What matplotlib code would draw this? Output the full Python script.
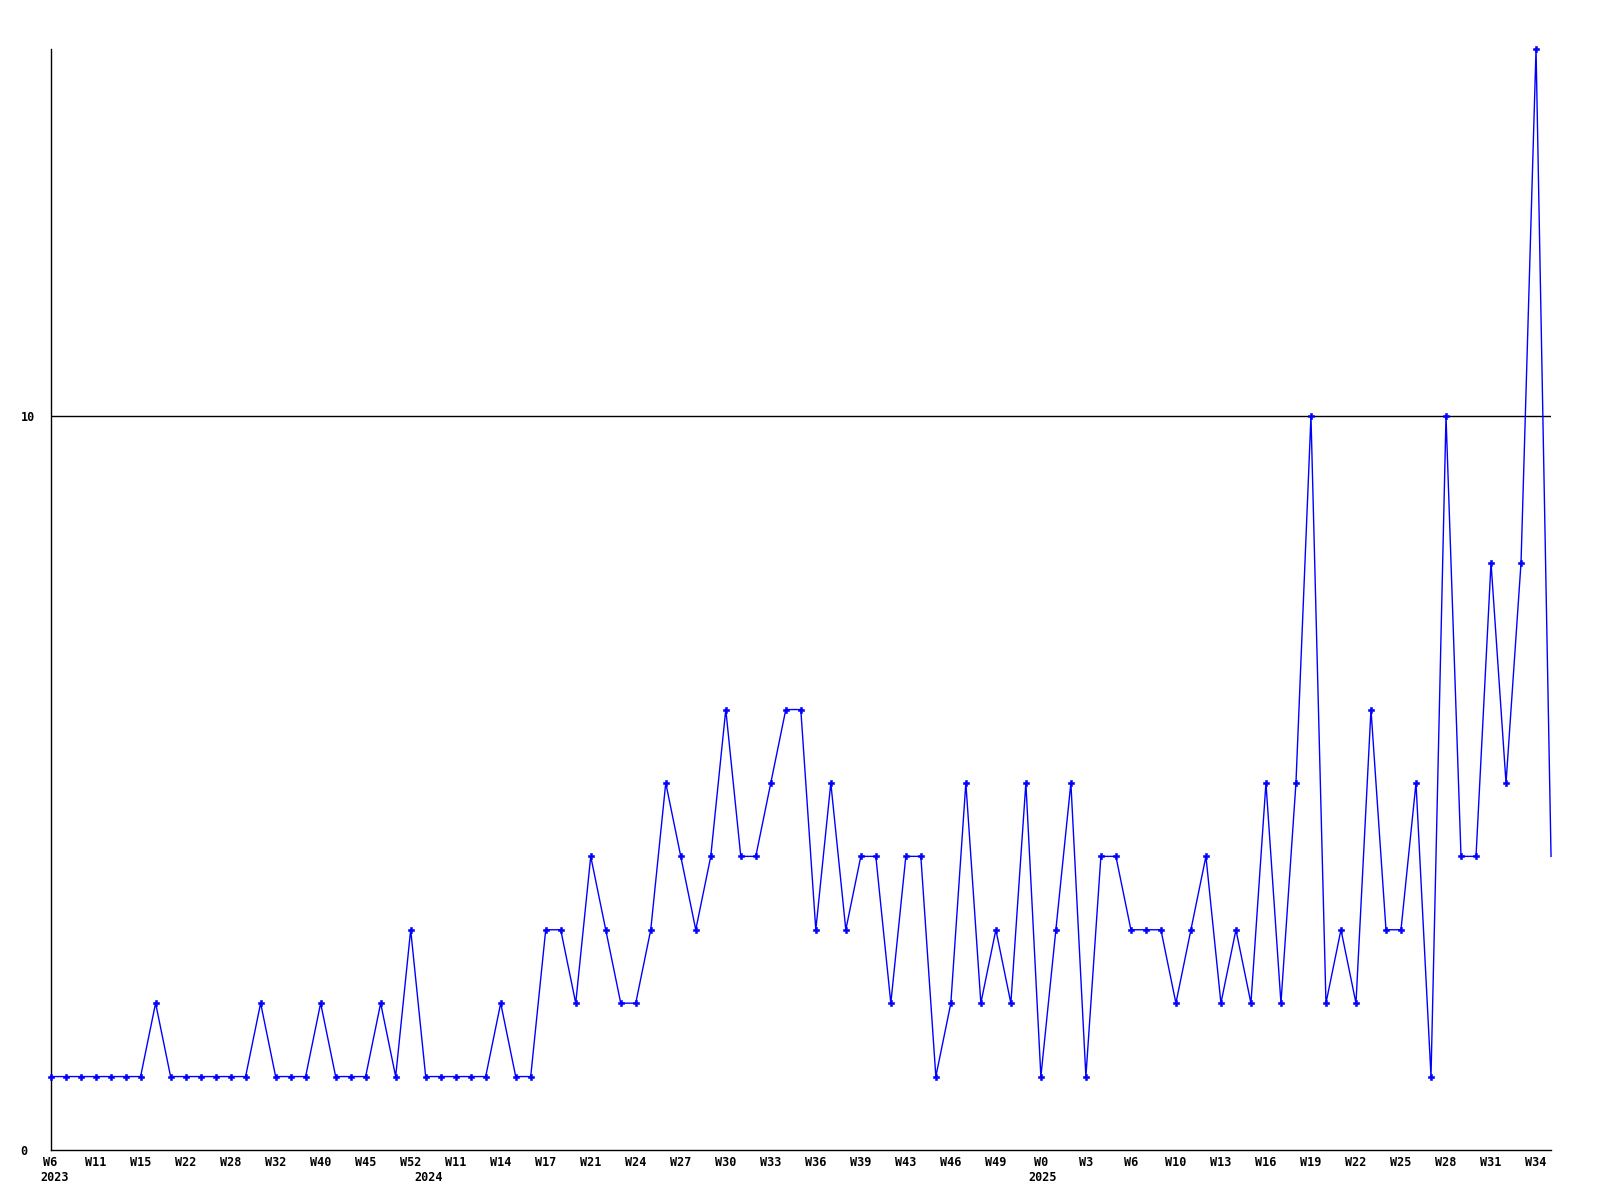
import matplotlib
matplotlib.use("Agg")
import matplotlib.pyplot as plt

# weekly counts, one value per week
counts = [1, 1, 1, 1, 1, 1, 1, 2, 1, 1, 1, 1, 1, 1, 2, 1, 1, 1, 2, 1,
          1, 1, 2, 1, 3, 1, 1, 1, 1, 1, 2, 1, 1, 3, 3, 2, 4, 3, 2, 2,
          3, 5, 4, 3, 4, 6, 4, 4, 5, 6, 6, 3, 5, 3, 4, 4, 2, 4, 4, 1,
          2, 5, 2, 3, 2, 5, 1, 3, 5, 1, 4, 4, 3, 3, 3, 2, 3, 4, 2, 3,
          2, 5, 2, 5, 10, 2, 3, 2, 6, 3, 3, 5, 1, 10, 4, 4, 8, 5, 8, 15,
          4]

week_labels = ["W6", "W11", "W15", "W22", "W28", "W32", "W40", "W45", "W52",
               "W11", "W14", "W17", "W21", "W24", "W27", "W30", "W33", "W36",
               "W39", "W43", "W46", "W49", "W0", "W3", "W6", "W10", "W13",
               "W16", "W19", "W22", "W25", "W28", "W31", "W34"]
label_step = 3

years = ["2023", "2024", "2025"]
year_pos = [0.3, 25.2, 66.1]

y_ticks = [0, 10]

font = {"family": "DejaVu Sans Mono", "weight": "bold", "size": 8.5}

fig = plt.figure(figsize=(16, 12), dpi=100)
ax = fig.add_axes([0.0316, 0.0417, 0.9378, 0.9175])

x = list(range(len(counts)))
ax.plot(x, counts, color="#0000ff", lw=1, marker="P", markersize=5,
        markeredgewidth=0.4, markevery=list(range(len(counts) - 1)),
        clip_on=False, zorder=3)
ax.axhline(10, color="black", lw=1, zorder=2)

ax.set_xlim(0, len(counts) - 1)
ax.set_ylim(0, 15)

for side in ["top", "right"]:
    ax.spines[side].set_visible(False)
for side in ["left", "bottom"]:
    ax.spines[side].set_color("black")
    ax.spines[side].set_linewidth(1)

ax.set_xticks([i * label_step for i in range(len(week_labels))])
ax.set_xticklabels(week_labels, fontdict=font)
ax.tick_params(axis="x", length=0, pad=4)

ax.set_yticks(y_ticks)
ax.set_yticklabels([str(v) for v in y_ticks], fontdict=font)
ax.tick_params(axis="y", length=0, pad=21.5)
for lab in ax.get_yticklabels():
    lab.set_horizontalalignment("left")

for yr, pos in zip(years, year_pos):
    ax.annotate(yr, xy=(pos, 0), xycoords=("data", "axes fraction"),
                xytext=(0, -15), textcoords="offset points",
                ha="center", va="top", **font)

fig.savefig("out.png", dpi=100, facecolor="white")
